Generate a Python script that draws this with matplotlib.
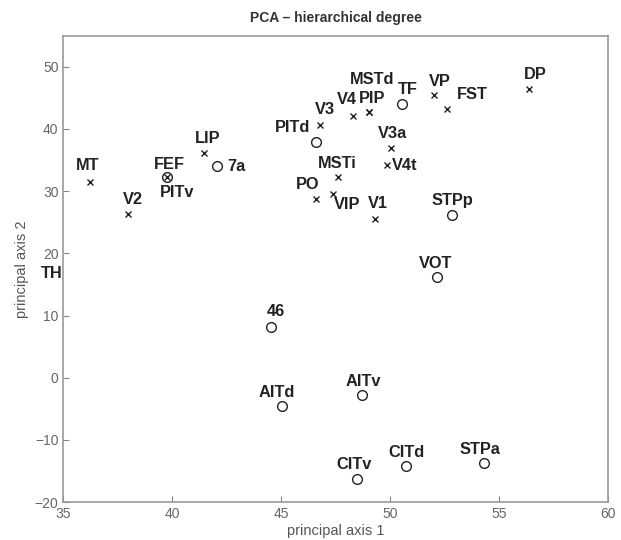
import numpy as np
import matplotlib
matplotlib.use("Agg")
import matplotlib.pyplot as plt

plt.rcParams['font.family'] = ['Liberation Sans', 'DejaVu Sans']

# areas drawn as crosses
x_names = ["MT", "V2", "PITv", "LIP", "V3", "PO", "MSTi", "VIP", "V4", "PIP", "MSTd",
           "V3a", "V4t", "V1", "VP", "FST", "DP"]
x_pc1 = [36.22, 37.98, 39.74, 41.47, 46.78, 46.62, 47.59, 47.36, 48.28, 49.04, 49.04,
         50.06, 49.86, 49.30, 52.02, 52.61, 56.38]
x_pc2 = [31.5, 26.4, 32.2, 36.1, 40.7, 28.7, 32.3, 29.5, 42.1, 42.7, 42.7,
         37.0, 34.2, 25.6, 45.4, 43.2, 46.5]

# areas drawn as circles
o_names = ["FEF", "7a", "PITd", "TF", "STPp", "VOT", "46", "AITd", "AITv",
           "CITv", "CITd", "STPa", "TH"]
o_pc1 = [39.74, 42.04, 46.58, 50.55, 52.84, 52.17, 44.51, 45.03, 48.72,
         48.49, 50.75, 54.31, 34.3]
o_pc2 = [32.2, 34.0, 37.9, 44.0, 26.2, 16.2, 8.2, -4.55, -2.7,
         -16.2, -14.2, -13.7, 15.0]

# label offsets in pixels (dx, dy up)
offsets = {
    "MT": (-2, 16), "V2": (5, 14), "FEF": (3, 13), "PITv": (11, -15),
    "LIP": (3, 15), "7a": (20, 0), "PITd": (-23, 15), "V3": (5, 15),
    "V4": (-6, 16), "PIP": (3, 14), "MSTd": (3, 33), "TF": (6, 15),
    "VP": (6, 14), "FST": (25, 15), "DP": (6, 14), "V3a": (1, 14),
    "V4t": (18, 0), "MSTi": (0, 13), "PO": (-9, 15), "VIP": (14, -10),
    "V1": (3, 15), "STPp": (0, 14), "VOT": (-2, 14), "46": (5, 15),
    "AITd": (-5, 14), "AITv": (1, 13), "CITv": (-3, 14), "CITd": (0, 14),
    "STPa": (-4, 14), "TH": (4, 11),
}

fig = plt.figure(figsize=(6.21, 5.4), dpi=100)
ax = fig.add_axes([0.102, 0.070, 0.877, 0.864])

ax.plot(x_pc1, x_pc2, 'x', color='#222222', markersize=4.2, markeredgewidth=1.0)
ax.plot(o_pc1, o_pc2, 'o', mfc='none', mec='#222222', markersize=7, markeredgewidth=1.0)

for names, xs, ys in [(x_names, x_pc1, x_pc2), (o_names, o_pc1, o_pc2)]:
    for n, xv, yv in zip(names, xs, ys):
        dx, dy = offsets[n]
        ax.annotate(n, (xv, yv), xytext=(dx * 0.72, dy * 0.72), textcoords='offset points',
                    ha='center', va='center', fontsize=11.8, fontweight='bold',
                    color='#222222', annotation_clip=False)

ax.set_xlim(35, 60)
ax.set_ylim(-20, 55)
ax.set_xticks(np.arange(35, 61, 5))
ax.set_yticks(np.arange(-20, 51, 10))
ax.tick_params(direction='in', length=4, colors='#888888', labelcolor='#666666',
               labelsize=10, top=False, right=False)
for s in ax.spines.values():
    s.set_color('#999999')
    s.set_linewidth(1.2)

ax.set_title("PCA \u2013 hierarchical degree", fontsize=10, fontweight='bold',
             color='#333333', pad=10)
ax.set_xlabel("principal axis 1", fontsize=10.5, color='#555555', labelpad=2)
ax.set_ylabel("principal axis 2", fontsize=10.5, color='#555555', labelpad=4)

fig.savefig("out.png", dpi=100)
